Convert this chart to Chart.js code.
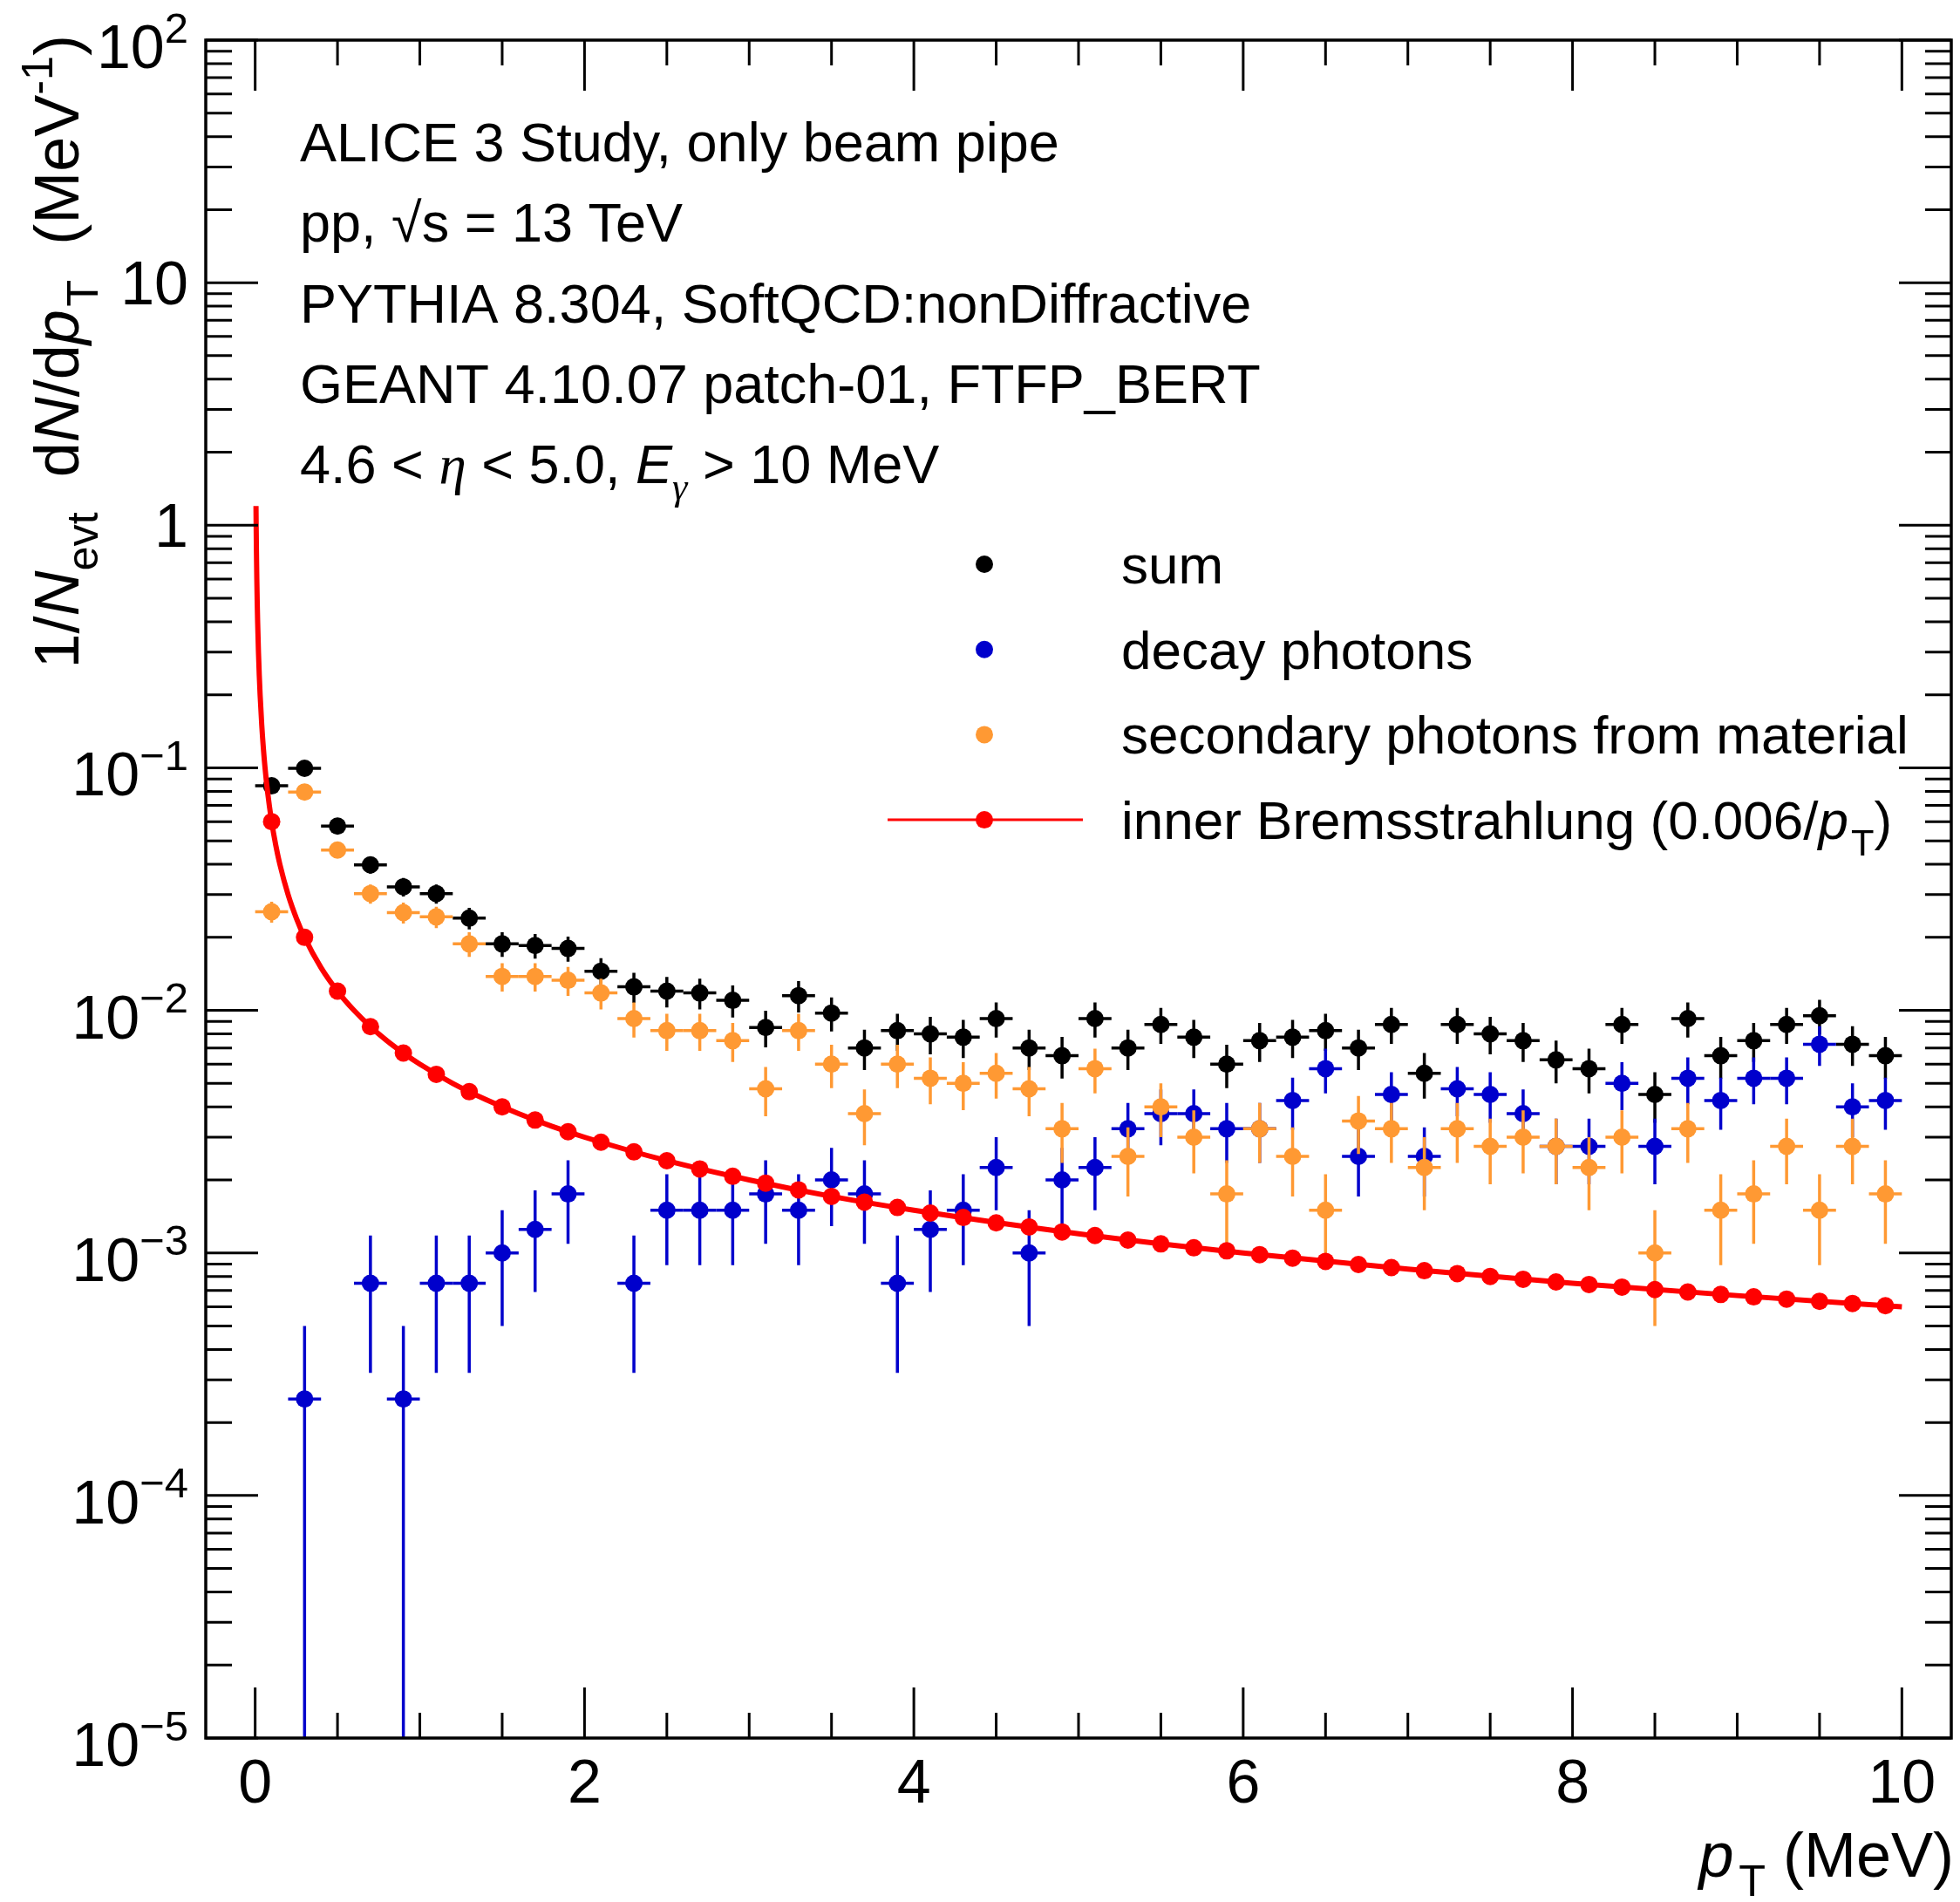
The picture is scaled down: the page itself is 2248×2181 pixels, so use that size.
<!DOCTYPE html>
<html>
<head>
<meta charset="utf-8">
<script src="https://cdn.jsdelivr.net/npm/chart.js@4.4.0/dist/chart.umd.min.js"></script>
<style>
  html, body { margin: 0; padding: 0; background: #fff; }
  canvas { display: block; }
</style>
</head>
<body>
<canvas id="spectrum" width="2248" height="2181"></canvas>
<script>
// bin centres (0.2 MeV bins)
const binCenters = [0.1, 0.3, 0.5, 0.7, 0.9, 1.1, 1.3, 1.5, 1.7, 1.9,
                    2.1, 2.3, 2.5, 2.7, 2.9, 3.1, 3.3, 3.5, 3.7, 3.9,
                    4.1, 4.3, 4.5, 4.7, 4.9, 5.1, 5.3, 5.5, 5.7, 5.9,
                    6.1, 6.3, 6.5, 6.7, 6.9, 7.1, 7.3, 7.5, 7.7, 7.9,
                    8.1, 8.3, 8.5, 8.7, 8.9, 9.1, 9.3, 9.5, 9.7, 9.9];

const sumValues = [0.0843, 0.0995, 0.0575, 0.0398, 0.0323, 0.0303, 0.024, 0.0188, 0.0185, 0.018,
                   0.0145, 0.0125, 0.012, 0.0118, 0.011, 0.0085, 0.0115, 0.00975, 0.007, 0.00825,
                   0.008, 0.00775, 0.00925, 0.007, 0.0065, 0.00925, 0.007, 0.00875, 0.00775, 0.006,
                   0.0075, 0.00775, 0.00825, 0.007, 0.00875, 0.0055, 0.00875, 0.008, 0.0075, 0.00625,
                   0.00575, 0.00875, 0.0045, 0.00925, 0.0065, 0.0075, 0.00875, 0.0095, 0.00725, 0.0065];
const sumErrors = [0.00459, 0.00499, 0.00379, 0.00315, 0.00284, 0.00275, 0.00245, 0.00217, 0.00215, 0.00212,
                   0.0019, 0.00177, 0.00173, 0.00171, 0.00166, 0.00146, 0.0017, 0.00156, 0.00132, 0.00144,
                   0.00141, 0.00139, 0.00152, 0.00132, 0.00127, 0.00152, 0.00132, 0.00148, 0.00139, 0.00122,
                   0.00137, 0.00139, 0.00144, 0.00132, 0.00148, 0.00117, 0.00148, 0.00141, 0.00137, 0.00125,
                   0.0012, 0.00148, 0.00106, 0.00152, 0.00127, 0.00137, 0.00148, 0.00154, 0.00135, 0.00127];

const decayValues = [null, 0.00025, null, 0.00075, 0.00025, 0.00075, 0.00075, 0.001, 0.00125, 0.00175,
                     null, 0.00075, 0.0015, 0.0015, 0.0015, 0.00175, 0.0015, 0.002, 0.00175, 0.00075,
                     0.00125, 0.0015, 0.00225, 0.001, 0.002, 0.00225, 0.00325, 0.00375, 0.00375, 0.00325,
                     0.00325, 0.00425, 0.00575, 0.0025, 0.0045, 0.0025, 0.00475, 0.0045, 0.00375, 0.00275,
                     0.00275, 0.005, 0.00275, 0.00525, 0.00425, 0.00525, 0.00525, 0.00725, 0.004, 0.00425];
const decayErrors = [null, 0.00025, null, 0.00043, 0.00025, 0.00043, 0.00043, 0.0005, 0.00056, 0.00066,
                     null, 0.00043, 0.00061, 0.00061, 0.00061, 0.00066, 0.00061, 0.00071, 0.00066, 0.00043,
                     0.00056, 0.00061, 0.00075, 0.0005, 0.00071, 0.00075, 0.0009, 0.00097, 0.00097, 0.0009,
                     0.0009, 0.00103, 0.0012, 0.00079, 0.00106, 0.00079, 0.00109, 0.00106, 0.00097, 0.00083,
                     0.00083, 0.00112, 0.00083, 0.00115, 0.00103, 0.00115, 0.00115, 0.00135, 0.001, 0.00103];

const secondaryValues = [0.0255, 0.0795, 0.0458, 0.0303, 0.0253, 0.0243, 0.0188, 0.0138, 0.0138, 0.0133,
                         0.0118, 0.00925, 0.00825, 0.00825, 0.0075, 0.00475, 0.00825, 0.006, 0.00375, 0.006,
                         0.00525, 0.005, 0.0055, 0.00475, 0.00325, 0.00575, 0.0025, 0.004, 0.003, 0.00175,
                         0.00325, 0.0025, 0.0015, 0.0035, 0.00325, 0.00225, 0.00325, 0.00275, 0.003, 0.00275,
                         0.00225, 0.003, 0.001, 0.00325, 0.0015, 0.00175, 0.00275, 0.0015, 0.00275, 0.00175];
const secondaryErrors = [0.00252, 0.00446, 0.00338, 0.00275, 0.00251, 0.00246, 0.00217, 0.00185, 0.00185, 0.00182,
                         0.00171, 0.00152, 0.00144, 0.00144, 0.00137, 0.00109, 0.00144, 0.00122, 0.00097, 0.00122,
                         0.00115, 0.00112, 0.00117, 0.00109, 0.0009, 0.0012, 0.00079, 0.001, 0.00087, 0.00066,
                         0.0009, 0.00079, 0.00061, 0.00094, 0.0009, 0.00075, 0.0009, 0.00083, 0.00087, 0.00083,
                         0.00075, 0.00087, 0.0005, 0.0009, 0.00061, 0.00066, 0.00083, 0.00061, 0.00083, 0.00066];

// inner bremsstrahlung markers at the bin centres
const bremsValues = [0.06, 0.02, 0.012, 0.00857, 0.00667, 0.00545, 0.00462, 0.004, 0.00353, 0.00316,
                     0.00286, 0.00261, 0.0024, 0.00222, 0.00207, 0.00194, 0.00182, 0.00171, 0.00162, 0.00154,
                     0.00146, 0.0014, 0.00133, 0.00128, 0.00122, 0.00118, 0.00113, 0.00109, 0.00105, 0.00102,
                     0.000984, 0.000952, 0.000923, 0.000896, 0.00087, 0.000845, 0.000822, 0.0008, 0.000779, 0.000759,
                     0.000741, 0.000723, 0.000706, 0.00069, 0.000674, 0.000659, 0.000645, 0.000632, 0.000619, 0.000606];
// the drawn curve
const bremsCurveX = [0.005, 0.006, 0.0075, 0.01, 0.0125, 0.015, 0.02, 0.025, 0.03, 0.04,
                     0.05, 0.06, 0.075, 0.1, 0.125, 0.15, 0.2, 0.25, 0.3, 0.4,
                     0.5, 0.6, 0.7, 0.8, 0.9, 1.0, 1.2, 1.4, 1.6, 1.8,
                     2.0, 2.5, 3.0, 3.5, 4.0, 5.0, 6.0, 7.0, 8.0, 9.0, 10.0];
const bremsCurveY = [1.2, 1.0, 0.8, 0.6, 0.48, 0.4, 0.3, 0.24, 0.2, 0.15,
                     0.12, 0.1, 0.08, 0.06, 0.048, 0.04, 0.03, 0.024, 0.02, 0.015,
                     0.012, 0.01, 0.00857, 0.0075, 0.00667, 0.006, 0.005, 0.00429, 0.00375, 0.00333,
                     0.003, 0.0024, 0.002, 0.00171, 0.0015, 0.0012, 0.001, 0.000857, 0.00075, 0.000667, 0.0006];

const xTickValues = [0, 2, 4, 6, 8, 10];
const xTickLabels = ['0', '2', '4', '6', '8', '10'];
const yTickValues = [1e-5, 1e-4, 1e-3, 1e-2, 1e-1, 1, 10, 100];
const yTickLabels = [['10', '\u22125'], ['10', '\u22124'], ['10', '\u22123'], ['10', '\u22122'],
                     ['10', '\u22121'], ['1', ''], ['10', ''], ['10', '2']];

const headerLines = [
    [{ t: 'ALICE 3 Study, only beam pipe' }],
    [{ t: 'pp, \u221As = 13 TeV' }],
    [{ t: 'PYTHIA 8.304, SoftQCD:nonDiffractive' }],
    [{ t: 'GEANT 4.10.07 patch-01, FTFP_BERT' }],
    [{ t: '4.6 < ' }, { t: '\u03B7', it: true, serif: true }, { t: ' < 5.0, ' }, { t: 'E', it: true },
     { t: '\u03B3', sub: true, serif: true, it: true }, { t: ' > 10 MeV' }]
];

const BLACK = '#000000';
const BLUE = '#0000cc';
const ORANGE = '#ff9933';
const RED = '#ff0000';
const SANS = '"Liberation Sans", Arial, Helvetica, sans-serif';
const SERIF = '"Liberation Serif", "Times New Roman", serif';
const MARKER_R = 10;

function fontFor(size, part) {
    return (part.it ? 'italic ' : '') + size + 'px ' + (part.serif ? SERIF : SANS);
}

function partSize(size, part) {
    return part.sub || part.sup ? size * 0.7 : size;
}

function richWidth(ctx, parts, size) {
    let w = 0;
    parts.forEach(p => {
        ctx.font = fontFor(partSize(size, p), p);
        w += ctx.measureText(p.t).width + (p.dx || 0) * size;
    });
    return w;
}

function drawRich(ctx, parts, x, y, size, align) {
    const w = richWidth(ctx, parts, size);
    let cx = align === 'right' ? x - w : align === 'center' ? x - w / 2 : x;
    ctx.textAlign = 'left';
    ctx.textBaseline = 'alphabetic';
    parts.forEach(p => {
        const s = partSize(size, p);
        ctx.font = fontFor(s, p);
        const dy = p.sub ? size * 0.3 : p.sup ? -size * 0.42 : 0;
        cx += (p.dx || 0) * size;
        ctx.fillText(p.t, cx, y + dy);
        cx += ctx.measureText(p.t).width;
    });
}

function points(values, errors) {
    return binCenters
        .map((x, i) => ({ x: x, y: values[i], err: errors ? errors[i] : 0 }))
        .filter(p => p.y !== null);
}

const errorBars = {
    id: 'errorBars',
    beforeDatasetDraw(chart, args) {
        const ds = chart.data.datasets[args.index];
        if (!ds.errorBars) return;
        const { ctx, chartArea } = chart;
        const xs = chart.scales.x, ys = chart.scales.y;
        ctx.save();
        ctx.beginPath();
        ctx.rect(chartArea.left, chartArea.top, chartArea.width, chartArea.height);
        ctx.clip();
        ctx.strokeStyle = ds.backgroundColor;
        ctx.lineWidth = 3.5;
        ds.data.forEach(p => {
            const px = xs.getPixelForValue(p.x);
            const py = ys.getPixelForValue(p.y);
            const top = ys.getPixelForValue(p.y + p.err);
            const low = p.y - p.err;
            const bottom = low > ys.min ? ys.getPixelForValue(low) : chartArea.bottom;
            ctx.beginPath();
            ctx.moveTo(px, top);
            ctx.lineTo(px, bottom);
            ctx.moveTo(xs.getPixelForValue(p.x - 0.1), py);
            ctx.lineTo(xs.getPixelForValue(p.x + 0.1), py);
            ctx.stroke();
        });
        ctx.restore();
    }
};

const frameAndText = {
    id: 'frameAndText',
    afterDraw(chart) {
        const { ctx, chartArea } = chart;
        const xs = chart.scales.x, ys = chart.scales.y;
        const L = chartArea.left, R = chartArea.right, T = chartArea.top, B = chartArea.bottom;
        ctx.save();
        ctx.strokeStyle = BLACK;
        ctx.fillStyle = BLACK;
        ctx.lineWidth = 3.5;
        ctx.strokeRect(L, T, R - L, B - T);

        // y ticks, inside on both sides
        ctx.lineWidth = 3;
        ctx.beginPath();
        for (let k = -5; k <= 2; k++) {
            for (let m = 1; m <= 9; m++) {
                const v = m * Math.pow(10, k);
                if (v > 100) break;
                const py = ys.getPixelForValue(v);
                const len = m === 1 ? 60 : 30;
                ctx.moveTo(L, py); ctx.lineTo(L + len, py);
                ctx.moveTo(R, py); ctx.lineTo(R - len, py);
            }
        }
        // x ticks every 0.5, major every 2
        for (let i = 0; i <= 20; i++) {
            const v = i * 0.5;
            const px = xs.getPixelForValue(v);
            const len = i % 4 === 0 ? 58 : 29;
            ctx.moveTo(px, B); ctx.lineTo(px, B - len);
            ctx.moveTo(px, T); ctx.lineTo(px, T + len);
        }
        ctx.stroke();

        // y tick labels
        yTickValues.forEach((v, i) => {
            const py = ys.getPixelForValue(v);
            const [base, sup] = yTickLabels[i];
            if (sup) {
                drawRich(ctx, [{ t: base }, { t: sup, sup: true }], 216, py + 32, 70, 'right');
            } else {
                drawRich(ctx, [{ t: base }], 216, py + 25, 70, 'right');
            }
        });
        // x tick labels
        xTickValues.forEach((v, i) => {
            drawRich(ctx, [{ t: xTickLabels[i] }], xs.getPixelForValue(v), 2067, 70, 'center');
        });

        // axis titles
        drawRich(ctx, [{ t: 'p', it: true }, { t: 'T', sub: true, dx: 0.08 }, { t: ' (MeV)' }],
                 2241, 2152, 72, 'right');
        ctx.save();
        ctx.translate(90, 40);
        ctx.rotate(-Math.PI / 2);
        drawRich(ctx, [{ t: '1/' }, { t: 'N', it: true }, { t: 'evt', sub: true },
                       { t: '  d' }, { t: 'N', it: true }, { t: '/d' }, { t: 'p', it: true },
                       { t: 'T', sub: true, dx: 0.05 }, { t: '  (MeV' }, { t: '-1', sup: true }, { t: ')' }],
                 0, 0, 72, 'right');
        ctx.restore();

        // header text
        headerLines.forEach((parts, i) => {
            drawRich(ctx, parts, 344, 185 + i * 92.3, 63, 'left');
        });

        // legend
        const legendRows = [
            { color: BLACK, parts: [{ t: 'sum' }] },
            { color: BLUE, parts: [{ t: 'decay photons' }] },
            { color: ORANGE, parts: [{ t: 'secondary photons from material' }] },
            { color: RED, line: true,
              parts: [{ t: 'inner Bremsstrahlung (0.006/' }, { t: 'p', it: true },
                      { t: 'T', sub: true, dx: 0.05 }, { t: ')' }] }
        ];
        legendRows.forEach((row, i) => {
            const my = 647 + i * 97.7;
            if (row.line) {
                ctx.strokeStyle = row.color;
                ctx.lineWidth = 3;
                ctx.beginPath();
                ctx.moveTo(1018, my); ctx.lineTo(1242, my);
                ctx.stroke();
            }
            ctx.fillStyle = row.color;
            ctx.beginPath();
            ctx.arc(1129, my, MARKER_R, 0, Math.PI * 2);
            ctx.fill();
            ctx.fillStyle = BLACK;
            drawRich(ctx, row.parts, 1286, my + 22, 62, 'left');
        });
        ctx.restore();
    }
};

new Chart(document.getElementById('spectrum'), {
    type: 'scatter',
    data: {
        datasets: [
            {
                label: 'sum',
                data: points(sumValues, sumErrors),
                backgroundColor: BLACK, borderColor: BLACK,
                pointRadius: MARKER_R, borderWidth: 0, errorBars: true, order: 4
            },
            {
                label: 'decay photons',
                data: points(decayValues, decayErrors),
                backgroundColor: BLUE, borderColor: BLUE,
                pointRadius: MARKER_R, borderWidth: 0, errorBars: true, order: 3
            },
            {
                label: 'secondary photons from material',
                data: points(secondaryValues, secondaryErrors),
                backgroundColor: ORANGE, borderColor: ORANGE,
                pointRadius: MARKER_R, borderWidth: 0, errorBars: true, order: 2
            },
            {
                label: 'inner Bremsstrahlung curve',
                data: bremsCurveX.map((x, i) => ({ x: x, y: bremsCurveY[i] })),
                showLine: true, borderColor: RED, borderWidth: 6,
                cubicInterpolationMode: 'monotone',
                pointRadius: 0, order: 1
            },
            {
                label: 'inner Bremsstrahlung (0.006/pT)',
                data: points(bremsValues, null),
                backgroundColor: RED, borderColor: RED,
                pointRadius: MARKER_R, borderWidth: 0, order: 0
            }
        ]
    },
    options: {
        responsive: false,
        animation: false,
        devicePixelRatio: 1,
        layout: { padding: { left: 236, right: 5, top: 46, bottom: 188 } },
        scales: {
            x: { type: 'linear', min: -0.3, max: 10.3, display: false },
            y: { type: 'logarithmic', min: 1e-5, max: 100, display: false }
        },
        plugins: {
            legend: { display: false },
            tooltip: { enabled: false }
        },
        elements: { point: { hoverRadius: MARKER_R } }
    },
    plugins: [errorBars, frameAndText]
});
</script>
</body>
</html>
